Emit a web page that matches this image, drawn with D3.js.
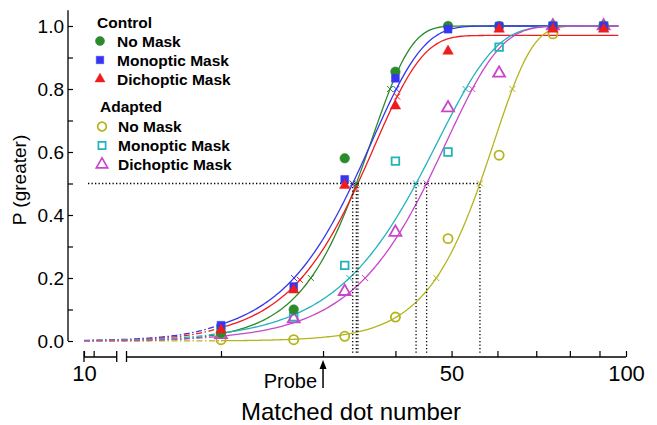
<!DOCTYPE html>
<html><head><meta charset="utf-8">
<script src="https://cdn.jsdelivr.net/npm/d3@7"></script>
<style>
html,body{margin:0;padding:0;background:#fff;}
svg{display:block;font-family:"Liberation Sans",Arial,Helvetica,sans-serif;}
</style></head><body>
<svg id="chart" width="657" height="425"></svg>
<script>
// ---------- data ----------
const dotNumbers = [20, 26.7, 32.7, 40, 49.3, 60.4, 74.8, 91.5];

const controlNoMask    = [0.025, 0.10, 0.58, 0.855, 1.00, 1.00, 1.00, 1.00];
const controlMonoptic  = [0.05, 0.173, 0.513, 0.834, 0.99, 1.00, 1.00, 1.00];
const controlDichoptic = [0.035, 0.162, 0.494, 0.746, 0.92, 0.99, 0.99, 0.99];
const adaptedNoMask    = [0.004, 0.004, 0.015, 0.076, 0.325, 0.59, 0.975, 1.00];
const adaptedMonoptic  = [0.04, 0.077, 0.24, 0.571, 0.60, 0.933, 1.00, 1.00];
const adaptedDichoptic = [0.02, 0.07, 0.157, 0.345, 0.74, 0.85, 1.00, 1.00];

// fitted Weibull curves (control: no, mono, dich; adapted: no, mono, dich)
const fitAlpha = [36.3, 36.4, 36.7, 59.2, 47.3, 49.0];
const fitBeta  = [6.28, 4.86, 5.11, 6.53, 4.28, 4.64];
const fitMax   = [1.0, 1.0, 0.97, 1.0, 1.0, 1.0];

const seriesLabels = ["No Mask", "Monoptic Mask", "Dichoptic Mask"];
const groupLabels = ["Control", "Adapted"];
const xTickValues = [10, 10.5, 20, 30, 40, 50, 60, 70, 80, 90, 100];
const xTickLabels = [10, 50, 100];
const yTickValues = [0, 0.1, 0.2, 0.3, 0.4, 0.5, 0.6, 0.7, 0.8, 0.9, 1.0];
const yTickLabels = [0, 0.2, 0.4, 0.6, 0.8, 1.0];
const markerLevels = [0.2, 0.5, 0.8];
const probeValue = 30;
const axisBreak = [11.8, 12.4];
const curveRange = [10, 20, 97];

// ---------- styling ----------
const colors = ["#2b8a2b", "#3636f0", "#ee1c1c", "#b4b41e", "#22b4bc", "#c746c9"];
const shapes = [d3.symbolCircle, d3.symbolSquare, d3.symbolTriangle, d3.symbolCircle, d3.symbolSquare, d3.symbolTriangle];
const filled = [true, true, true, false, false, false];
const symSize = [72, 62, 48, 66, 58, 62];
const allValues = [controlNoMask, controlMonoptic, controlDichoptic, adaptedNoMask, adaptedMonoptic, adaptedDichoptic];

const svg = d3.select("#chart");
svg.append("rect").attr("width", 657).attr("height", 425).attr("fill", "#fff");

const x = d3.scaleLog().domain([10, 20, 100]).range([84, 221, 626]);
const y = d3.scaleLinear().domain([0, 1]).range([341, 26]);
const axisY = 357;
const axisX = 68;

const psy = (i, v) => fitMax[i] * (1 - Math.exp(-Math.pow(v / fitAlpha[i], fitBeta[i])));
const inv = (i, p) => fitAlpha[i] * Math.pow(-Math.log(1 - p / fitMax[i]), 1 / fitBeta[i]);
const sample = (lo, hi, n) => d3.range(n + 1).map(k => lo * Math.pow(hi / lo, k / n));

const line = d3.line().x(d => x(d[0])).y(d => y(d[1]));

// ---------- axes ----------
const xAxis = d3.axisBottom(x).tickValues(xTickValues)
  .tickSizeInner(-6).tickSizeOuter(0).tickPadding(8)
  .tickFormat(d => xTickLabels.includes(d) ? String(d) : "");
const gx = svg.append("g").attr("transform", `translate(0,${axisY})`).call(xAxis);
gx.select(".domain").remove();
gx.selectAll(".tick line").attr("stroke", "#000").attr("stroke-width", 1.2);
gx.selectAll(".tick text").attr("font-size", 22).attr("fill", "#000")
  .attr("font-family", '"Liberation Sans",Arial,sans-serif');
// axis segments with break
[[10, axisBreak[0]], [axisBreak[1], 100]].forEach(seg => {
  gx.append("line").attr("x1", x(seg[0])).attr("x2", x(seg[1]))
    .attr("y1", 0).attr("y2", 0).attr("stroke", "#000").attr("stroke-width", 1.3);
});
[10, axisBreak[0], axisBreak[1]].forEach(v => {
  gx.append("line").attr("x1", x(v)).attr("x2", x(v)).attr("y1", -6).attr("y2", 5)
    .attr("stroke", "#000").attr("stroke-width", 1.3);
});

const yAxis = d3.axisLeft(y).tickValues(yTickValues)
  .tickSizeInner(-5).tickSizeOuter(0).tickPadding(4)
  .tickFormat(d => yTickLabels.some(v => Math.abs(v - d) < 1e-9) ? d3.format(".1f")(d) : "");
const gy = svg.append("g").attr("transform", `translate(${axisX},0)`).call(yAxis);
gy.select(".domain").remove();
gy.append("line").attr("x1", 0).attr("x2", 0).attr("y1", y(1.05)).attr("y2", y(0))
  .attr("stroke", "#000").attr("stroke-width", 1.3);
gy.selectAll(".tick line").attr("stroke", "#000").attr("stroke-width", 1.2);
gy.selectAll(".tick text").attr("font-size", 19).attr("fill", "#000")
  .attr("font-family", '"Liberation Sans",Arial,sans-serif');

// axis titles
svg.append("text").attr("transform", "translate(26,180) rotate(-90)")
  .attr("text-anchor", "middle").attr("font-size", 19).text("P (greater)");
svg.append("text").attr("x", 351).attr("y", 420).attr("text-anchor", "middle")
  .attr("font-size", 24).text("Matched dot number");
svg.append("text").attr("x", x(probeValue) - 6).attr("y", 388).attr("text-anchor", "end")
  .attr("font-size", 20).text("Probe");
svg.append("line").attr("x1", x(probeValue)).attr("x2", x(probeValue))
  .attr("y1", 388).attr("y2", 366).attr("stroke", "#000").attr("stroke-width", 1.5);
svg.append("path").attr("d", `M${x(probeValue)},360 L${x(probeValue) - 3.5},369 L${x(probeValue) + 3.5},369 Z`)
  .attr("fill", "#000");

// ---------- curves ----------
const gc = svg.append("g");
allValues.forEach((vals, i) => {
  const solid = sample(curveRange[1], curveRange[2], 200).map(v => [v, psy(i, v)]);
  const dashed = sample(curveRange[0], curveRange[1], 80).map(v => [v, psy(i, v)]);
  gc.append("path").attr("d", line(dashed)).attr("fill", "none")
    .attr("stroke", colors[i]).attr("stroke-width", 1.3).attr("stroke-dasharray", "6,2.5,1.5,2.5");
  gc.append("path").attr("d", line(solid)).attr("fill", "none")
    .attr("stroke", colors[i]).attr("stroke-width", 1.3);
});

// ---------- threshold dotted lines ----------
const thresholds = allValues.map((_, i) => inv(i, 0.5));
const gd = svg.append("g").attr("stroke", "#000").attr("stroke-width", 1.3)
  .attr("stroke-dasharray", "1.3,2.2").attr("fill", "none");
gd.append("line").attr("x1", 88).attr("x2", x(d3.max(thresholds)))
  .attr("y1", y(0.5)).attr("y2", y(0.5));
thresholds.forEach(t => {
  gd.append("line").attr("x1", x(t)).attr("x2", x(t)).attr("y1", y(0.5)).attr("y2", axisY - 2);
});

// ---------- x markers on curves ----------
allValues.forEach((_, i) => {
  markerLevels.forEach(q => {
    const v = inv(i, q * fitMax[i]);
    svg.append("path").attr("transform", `translate(${x(v)},${y(q * fitMax[i])})`)
      .attr("d", "M-3,-3L3,3M-3,3L3,-3").attr("stroke", colors[i]).attr("stroke-width", 1).attr("fill", "none");
  });
});

// ---------- data points ----------
const drawOrder = [3, 4, 5, 0, 1, 2];
drawOrder.forEach(i => {
  svg.append("g").selectAll("path").data(allValues[i]).join("path")
    .attr("transform", (d, k) => `translate(${x(dotNumbers[k])},${y(d)})`)
    .attr("d", d3.symbol().type(shapes[i]).size(symSize[i]))
    .attr("fill", filled[i] ? colors[i] : "none")
    .attr("stroke", colors[i])
    .attr("stroke-width", filled[i] ? 0.5 : 1.8);
});

// ---------- legend ----------
const lg = svg.append("g").attr("font-weight", "bold").attr("font-size", 15.5);
const legendRows = [
  {title: groupLabels[0], tx: 97, ty: 28, ix: [0, 1, 2], mx: 100, lx: 117, ys: [46.5, 65.5, 84.5]},
  {title: groupLabels[1], tx: 100, ty: 111.5, ix: [3, 4, 5], mx: 102, lx: 118, ys: [132, 151, 170]}
];
legendRows.forEach(r => {
  lg.append("text").attr("x", r.tx).attr("y", r.ty).text(r.title);
  r.ix.forEach((i, k) => {
    lg.append("path").attr("transform", `translate(${r.mx},${r.ys[k] - 5.5})`)
      .attr("d", d3.symbol().type(shapes[i]).size(symSize[i] * 0.9))
      .attr("fill", filled[i] ? colors[i] : "none").attr("stroke", colors[i])
      .attr("stroke-width", filled[i] ? 0.5 : 1.7);
    lg.append("text").attr("x", r.lx).attr("y", r.ys[k]).text(seriesLabels[k]);
  });
});
</script>
</body></html>
